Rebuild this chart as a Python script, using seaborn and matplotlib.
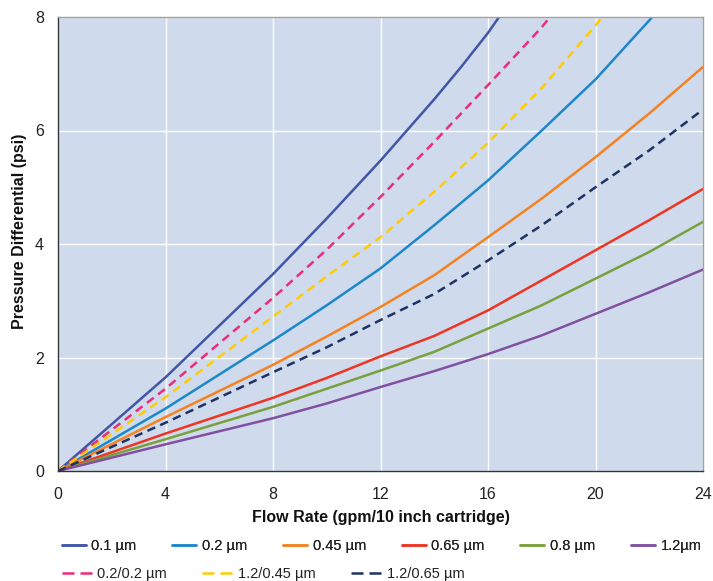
import numpy as np
import pandas as pd
import matplotlib
matplotlib.use("Agg")
import matplotlib.pyplot as plt
from matplotlib.lines import Line2D
import seaborn as sns

# Flow rate (gpm/10 inch cartridge) vs pressure differential (psi)
flow_0_1 = [0, 4, 8, 10, 12, 14, 15, 16, 17]
dp_0_1 = [0, 1.65, 3.47, 4.45, 5.47, 6.55, 7.12, 7.72, 8.4]

flow_02_02 = [0, 4, 8, 10, 12, 14, 16, 18, 19]
dp_02_02 = [0, 1.45, 3.05, 3.9, 4.83, 5.8, 6.8, 7.82, 8.4]

flow_12_045 = [0, 4, 8, 10, 12, 14, 16, 18, 20, 21]
dp_12_045 = [0, 1.3, 2.72, 3.43, 4.12, 4.92, 5.78, 6.75, 7.85, 8.45]

flow_0_2 = [0, 4, 8, 10, 12, 14, 16, 18, 20, 22, 23]
dp_0_2 = [0, 1.1, 2.3, 2.92, 3.57, 4.33, 5.12, 6.0, 6.9, 7.94, 8.5]

flow_std = [0, 4, 8, 10, 12, 14, 16, 18, 20, 22, 24]
dp_0_45 = [0, 0.95, 1.87, 2.37, 2.89, 3.45, 4.12, 4.8, 5.53, 6.3, 7.12]
dp_12_065 = [0, 0.85, 1.74, 2.18, 2.66, 3.12, 3.71, 4.33, 5.0, 5.65, 6.37]
dp_0_65 = [0, 0.66, 1.29, 1.64, 2.02, 2.38, 2.83, 3.36, 3.89, 4.42, 4.97]
dp_0_8 = [0, 0.56, 1.13, 1.45, 1.77, 2.1, 2.51, 2.92, 3.39, 3.86, 4.39]
dp_1_2 = [0, 0.47, 0.93, 1.19, 1.48, 1.76, 2.06, 2.39, 2.77, 3.15, 3.55]

x_ticks = [0, 4, 8, 12, 16, 20, 24]
y_ticks = [0, 2, 4, 6, 8]

series = [
    ("0.1 µm", flow_0_1, dp_0_1, "#4256A6", False),
    ("0.2 µm", flow_0_2, dp_0_2, "#1D88C9", False),
    ("0.45 µm", flow_std, dp_0_45, "#F58220", False),
    ("0.65 µm", flow_std, dp_0_65, "#EE3524", False),
    ("0.8 µm", flow_std, dp_0_8, "#7AA03E", False),
    ("1.2µm", flow_std, dp_1_2, "#8150A0", False),
    ("0.2/0.2 µm", flow_02_02, dp_02_02, "#EC2C7A", True),
    ("1.2/0.45 µm", flow_12_045, dp_12_045, "#FFCB05", True),
    ("1.2/0.65 µm", flow_std, dp_12_065, "#1F3264", True),
]

sns.set_style("white", {"axes.facecolor": "#CFDBEC"})
plt.rcParams['font.family'] = ['Liberation Sans', 'DejaVu Sans']

fig = plt.figure(figsize=(7.13, 5.81), dpi=100)
ax = fig.add_axes([58 / 713, 1 - 471 / 581, 645 / 713, 454 / 581])

LW = 1.8
handles = {}
for name, xs, ys, col, dashed in series:
    df = pd.DataFrame({"flow": xs, "dp": ys})
    ls = (0, (3.4, 2.2)) if dashed else "-"
    sns.lineplot(data=df, x="flow", y="dp", ax=ax, color=col, lw=LW,
                 linestyle=ls, legend=False, sort=False)
    # legend proxies: longer dashes like the original legend keys
    handles[name] = Line2D([], [], color=col, lw=LW,
                           linestyle=(0, (4.8, 2.4)) if dashed else "-")

ax.set_xlim(0, 24)
ax.set_ylim(0, 8)
ax.set_xticks(x_ticks)
ax.set_yticks(y_ticks)
ax.grid(True, color="white", lw=1.0)
ax.set_axisbelow(True)

for side in ["top", "right"]:
    ax.spines[side].set_color("#A0A0A0")
    ax.spines[side].set_linewidth(1.0)
for side in ["left", "bottom"]:
    ax.spines[side].set_color("#333333")
    ax.spines[side].set_linewidth(1.0)

ax.tick_params(axis="both", direction="out", length=4, width=1, color="#333333",
               labelsize=11.5, labelcolor="#222222", pad=6)
ax.tick_params(axis="x", pad=7.5)
ax.set_xlabel("Flow Rate (gpm/10 inch cartridge)", fontsize=11.5, fontweight="bold",
              labelpad=6, color="#111111")
ax.set_ylabel("Pressure Differential (psi)", fontsize=11.5, fontweight="bold", color="#111111")
ax.yaxis.set_label_coords(-0.048, 0.529)

solid = [s[0] for s in series if not s[4]]
dashed_names = [s[0] for s in series if s[4]]

leg1 = fig.legend([handles[n] for n in solid], solid, ncol=6, loc="center left",
                  bbox_to_anchor=(61.7 / 713, 1 - 546 / 581), frameon=False, fontsize=10.5,
                  handlelength=1.65, handletextpad=0.39, columnspacing=2.44,
                  borderaxespad=0, borderpad=0, labelcolor="#222222")
leg2 = fig.legend([handles[n] for n in dashed_names], dashed_names, ncol=3, loc="center left",
                  bbox_to_anchor=(61.7 / 713, 1 - 574 / 581), frameon=False, fontsize=10.5,
                  handlelength=2.06, handletextpad=0.39, columnspacing=2.42,
                  borderaxespad=0, borderpad=0, labelcolor="#222222")
fig.add_artist(leg1)

fig.savefig("out.png", dpi=100, facecolor="white")
